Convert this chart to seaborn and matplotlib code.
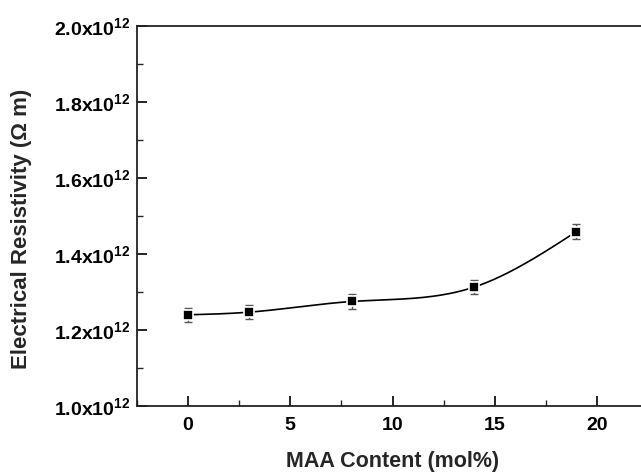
import numpy as np
import pandas as pd
import matplotlib
matplotlib.use("Agg")
import matplotlib.pyplot as plt
import seaborn as sns
from matplotlib.ticker import MultipleLocator, FuncFormatter

maa_content = [0, 3, 8, 14, 19]
resistivity = [1.240e12, 1.247e12, 1.275e12, 1.313e12, 1.459e12]
errors = [0.019e12, 0.019e12, 0.019e12, 0.019e12, 0.019e12]

sns.set_style("ticks")
plt.rcParams["font.family"] = ["Liberation Sans", "DejaVu Sans"]
plt.rcParams["mathtext.fontset"] = "custom"
plt.rcParams["mathtext.bf"] = "Liberation Sans:bold"
plt.rcParams["mathtext.rm"] = "Liberation Sans:bold"
plt.rcParams["mathtext.default"] = "bf"

df = pd.DataFrame({"x": maa_content, "y": resistivity, "err": errors})

# natural cubic spline through data (smooth connecting line)
def natural_spline(x, y, n=300):
    x = np.asarray(x, float); y = np.asarray(y, float)
    k = len(x); h = np.diff(x)
    A = np.zeros((k, k)); b = np.zeros(k)
    A[0, 0] = A[-1, -1] = 1
    for i in range(1, k - 1):
        A[i, i - 1] = h[i - 1]; A[i, i] = 2 * (h[i - 1] + h[i]); A[i, i + 1] = h[i]
        b[i] = 3 * ((y[i + 1] - y[i]) / h[i] - (y[i] - y[i - 1]) / h[i - 1])
    c = np.linalg.solve(A, b)
    xs = np.linspace(x[0], x[-1], n); ys = np.empty_like(xs)
    for j, xv in enumerate(xs):
        i = min(np.searchsorted(x, xv, side="right") - 1, k - 2)
        dx = xv - x[i]
        bi = (y[i + 1] - y[i]) / h[i] - h[i] * (2 * c[i] + c[i + 1]) / 3
        di = (c[i + 1] - c[i]) / (3 * h[i])
        ys[j] = y[i] + bi * dx + c[i] * dx ** 2 + di * dx ** 3
    return xs, ys

fig = plt.figure(figsize=(6.41, 4.73), dpi=100)
ax = fig.add_axes([137 / 641, 67 / 473, 511 / 641, 380 / 473])

xs, ys = natural_spline(maa_content, resistivity)
ax.plot(xs, ys, color="black", lw=1.2, zorder=2)
ax.errorbar(df["x"], df["y"], yerr=df["err"], fmt="none", ecolor="#555555",
            elinewidth=1.0, capsize=3, capthick=1.0, zorder=3)
sns.scatterplot(data=df, x="x", y="y", marker="s", s=45, color="black",
                edgecolor="white", linewidth=1.2, ax=ax, zorder=4)

ax.set_xlim(-2.5, 22.5)
ax.set_ylim(1.0e12, 2.0e12)
ax.xaxis.set_major_locator(MultipleLocator(5))
ax.xaxis.set_minor_locator(MultipleLocator(2.5))
ax.yaxis.set_major_locator(MultipleLocator(0.2e12))
ax.yaxis.set_minor_locator(MultipleLocator(0.1e12))
ax.yaxis.set_major_formatter(FuncFormatter(lambda v, p: r"$\mathbf{%.1fx10^{12}}$" % (v / 1e12)))
ax.tick_params(which="major", direction="in", length=7, width=1.2, labelsize=14, colors="black")
ax.tick_params(axis="x", which="major", pad=8)
ax.tick_params(axis="y", which="major", pad=5)
ax.tick_params(which="minor", direction="in", length=4, width=1.0)
for lab in ax.get_xticklabels():
    lab.set_fontweight("bold")
for sp in ax.spines.values():
    sp.set_linewidth(1.3)
    sp.set_color("#222222")
    sp.set_visible(True)

ax.set_xlabel("MAA Content (mol%)", fontsize=15.5, fontweight="bold", labelpad=12)
ax.set_ylabel("Electrical Resistivity (Ω m)", fontsize=16, fontweight="bold")
ax.yaxis.set_label_coords(-0.205, 0.466)

fig.savefig("out.png", dpi=100)
